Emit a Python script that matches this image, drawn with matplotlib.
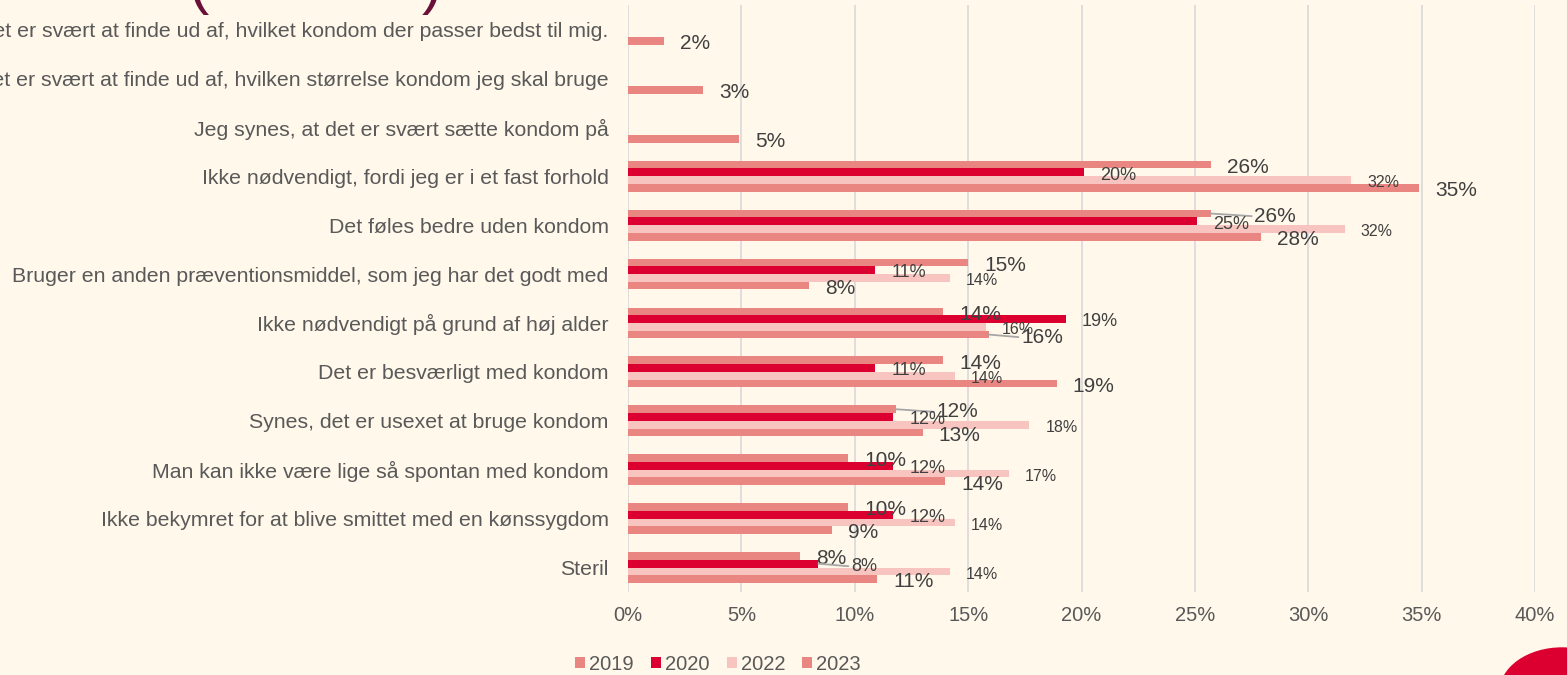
import numpy as np
import matplotlib
matplotlib.use("Agg")
import matplotlib.pyplot as plt
from matplotlib.patches import Patch, Ellipse

plt.rcParams['font.family'] = ['Liberation Sans', 'DejaVu Sans']

categories = [
    "Det er svært at finde ud af, hvilket kondom der passer bedst til mig.",
    "Det er svært at finde ud af, hvilken størrelse kondom jeg skal bruge",
    "Jeg synes, at det er svært sætte kondom på",
    "Ikke nødvendigt, fordi jeg er i et fast forhold",
    "Det føles bedre uden kondom",
    "Bruger en anden præventionsmiddel, som jeg har det godt med",
    "Ikke nødvendigt på grund af høj alder",
    "Det er besværligt med kondom",
    "Synes, det er usexet at bruge kondom",
    "Man kan ikke være lige så spontan med kondom",
    "Ikke bekymret for at blive smittet med en kønssygdom",
    "Steril",
]
years = ["2019", "2020", "2022", "2023"]

nan = np.nan
v2019 = [nan, nan, nan, 25.7, 25.7, 15.0, 13.9, 13.9, 11.8, 9.7, 9.7, 7.6]
v2020 = [nan, nan, nan, 20.1, 25.1, 10.9, 19.3, 10.9, 11.7, 11.7, 11.7, 8.4]
v2022 = [nan, nan, nan, 31.9, 31.6, 14.2, 15.8, 14.4, 17.7, 16.8, 14.4, 14.2]
v2023 = [1.6, 3.3, 4.9, 34.9, 27.9, 8.0, 15.9, 18.9, 13.0, 14.0, 9.0, 11.0]
series = [v2019, v2020, v2022, v2023]

colors = ["#EA8682", "#DC0030", "#F8C4C0", "#EA8682"]
label_sizes = [15, 13, 11.5, 15]
bg = "#FFF8EB"

# labels that were moved by hand in the original (category, series) -> extra pt, with leader line
nudges = {(4, 0): 20, (6, 3): 12, (8, 0): 18, (11, 1): 12}

fig = plt.figure(figsize=(15.67, 6.75), dpi=100, facecolor=bg)
ax = fig.add_axes([628 / 1567, 1 - 592 / 675, 907 / 1567, 587 / 675])
ax.set_facecolor(bg)

y = np.arange(len(categories))
h = 0.158
for k, vals in enumerate(series):
    vals = np.array(vals, dtype=float)
    ypos = y + (k - 1.5) * h
    ax.barh(ypos, vals, height=h, color=colors[k], zorder=2)
    for i, v in enumerate(vals):
        if np.isnan(v):
            continue
        extra = nudges.get((i, k), 0)
        arrow = None
        if extra:
            arrow = dict(arrowstyle="-", color="#A6A6A6", lw=1.3,
                         shrinkA=0, shrinkB=0, relpos=(0, 0.5))
        ax.annotate(f"{v:.0f}%", xy=(v, ypos[i]), xytext=(11.5 + extra, -2),
                    textcoords="offset points", ha="left", va="center",
                    fontsize=label_sizes[k], color="#404040", zorder=3,
                    arrowprops=arrow)

ax.set_xlim(0, 40)
ax.set_ylim(len(categories) - 0.5, -0.5)
ax.set_xticks(np.arange(0, 41, 5))
ax.set_xticklabels([f"{t}%" for t in range(0, 41, 5)])
ax.set_yticks(y)
ax.set_yticklabels(categories)
ax.tick_params(axis="x", length=0, pad=10, labelsize=14.5, labelcolor="#595959")
ax.tick_params(axis="y", length=0, pad=14, labelsize=15.3, labelcolor="#595959")
ax.grid(axis="x", color="#D9D9D9", lw=1.2, zorder=0)
ax.set_axisbelow(True)
for s in ax.spines.values():
    s.set_visible(False)

handles = [Patch(facecolor=c, edgecolor="none") for c in colors]
fig.legend(handles, years, loc="center", bbox_to_anchor=(718 / 1567, 1 - 664 / 675),
           ncol=4, frameon=False, fontsize=14.5, handlelength=0.5, handleheight=0.5,
           handletextpad=0.2, columnspacing=0.85, labelcolor="#595959")

# cropped title brackets at the top
fig.text(198 / 1567, 1 - 2 / 675, "(", fontsize=44, color="#6A1039",
         ha="center", va="baseline")
fig.text(432 / 1567, 1 - 2 / 675, ")", fontsize=44, color="#6A1039",
         ha="center", va="baseline")

# red decoration in the bottom right corner
fig.add_artist(Ellipse((1562 / 1567, 1 - 692 / 675), 124 / 1567, 88 / 675,
                       transform=fig.transFigure, color="#DC0030", zorder=5))

fig.savefig("out.png", dpi=100, facecolor=bg)
